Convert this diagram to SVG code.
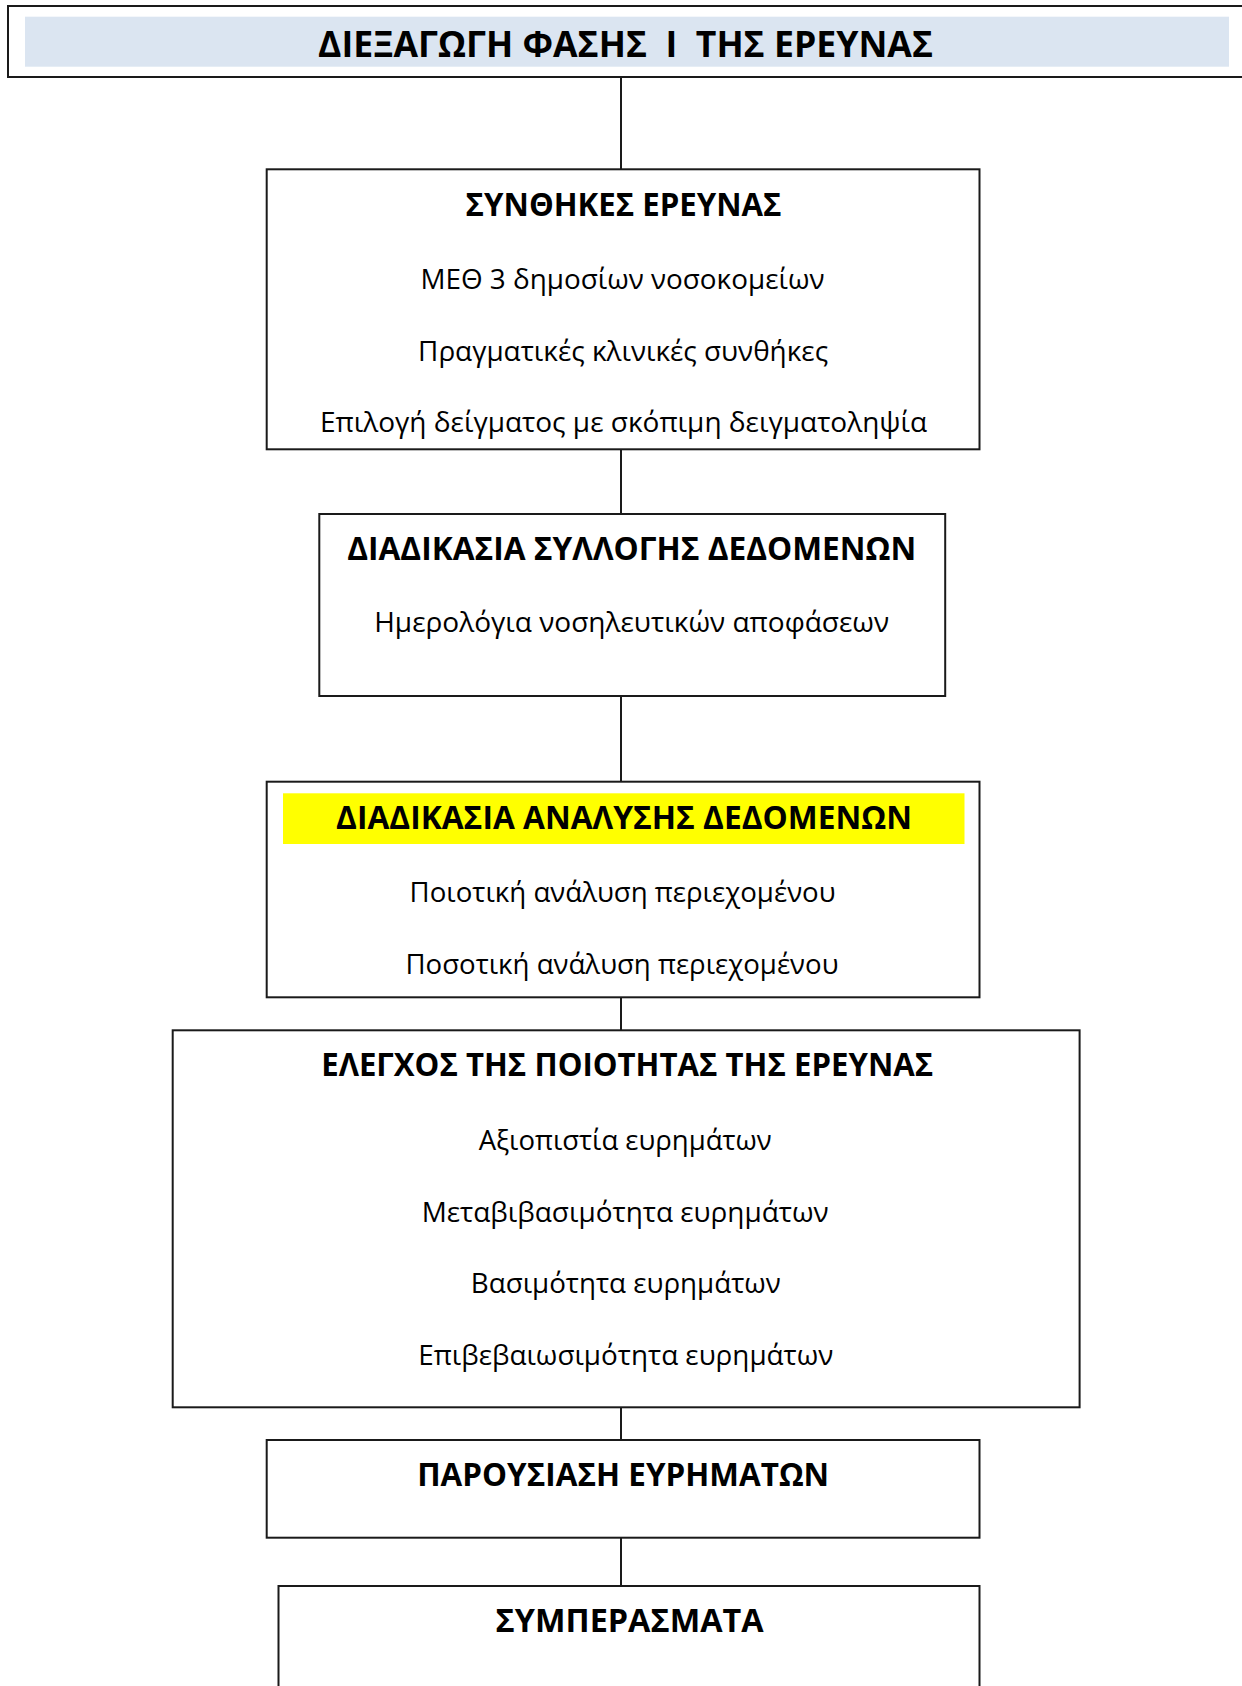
<svg xmlns="http://www.w3.org/2000/svg" width="1242" height="1686" viewBox="0 0 1242 1686">
  <style>
    .box { fill: #ffffff; stroke: #1a1a1a; stroke-width: 2; }
    .conn { stroke: #1a1a1a; stroke-width: 2; fill: none; }
    .head { font-family: "Open Sans", "Noto Sans", "Liberation Sans", sans-serif; font-weight: 700; font-size: 36px; fill: #000; text-anchor: middle; }
    .title { font-family: "Open Sans", "Noto Sans", "Liberation Sans", sans-serif; font-weight: 700; font-size: 32px; fill: #000; text-anchor: middle; }
    .body { font-family: "Open Sans", "Noto Sans", "Liberation Sans", sans-serif; font-weight: 400; font-size: 26.5px; fill: #000; text-anchor: middle; }
  </style>

  <rect width="1242" height="1686" fill="#ffffff"/>

  <!-- vertical connectors down the centre line -->
  <g id="connectors">
    <line class="conn" x1="621" y1="77" x2="621" y2="169.3"/>
    <line class="conn" x1="621" y1="449.3" x2="621" y2="514"/>
    <line class="conn" x1="621" y1="696" x2="621" y2="781.7"/>
    <line class="conn" x1="621" y1="997.3" x2="621" y2="1030.3"/>
    <line class="conn" x1="621" y1="1407.3" x2="621" y2="1440"/>
    <line class="conn" x1="621" y1="1537.7" x2="621" y2="1586"/>
  </g>

  <!-- header banner -->
  <g id="header">
    <rect class="box" x="8" y="6" width="1250" height="71"/>
    <rect x="25" y="16.7" width="1204" height="50" fill="#dbe5f1"/>
    <text class="head" x="625.5" y="57.3" textLength="615" lengthAdjust="spacingAndGlyphs" xml:space="preserve">ΔΙΕΞΑΓΩΓΗ ΦΑΣΗΣ  Ι  ΤΗΣ ΕΡΕΥΝΑΣ</text>
  </g>

  <g id="conditions">
    <rect class="box" x="266.7" y="169.3" width="712.8" height="280"/>
    <text class="title" x="623.6" y="215.5" textLength="316" lengthAdjust="spacingAndGlyphs">ΣΥΝΘΗΚΕΣ ΕΡΕΥΝΑΣ</text>
    <text class="body" x="622.5" y="289.3" textLength="404" lengthAdjust="spacingAndGlyphs">ΜΕΘ 3 δημοσίων νοσοκομείων</text>
    <text class="body" x="623.1" y="360.8" textLength="410" lengthAdjust="spacingAndGlyphs">Πραγματικές κλινικές συνθήκες</text>
    <text class="body" x="623.5" y="432.3" textLength="607" lengthAdjust="spacingAndGlyphs">Επιλογή δείγματος με σκόπιμη δειγματοληψία</text>
  </g>

  <g id="collection">
    <rect class="box" x="319.3" y="514" width="625.9" height="182"/>
    <text class="title" x="631.7" y="560" textLength="569" lengthAdjust="spacingAndGlyphs">ΔΙΑΔΙΚΑΣΙΑ ΣΥΛΛΟΓΗΣ ΔΕΔΟΜΕΝΩΝ</text>
    <text class="body" x="631.7" y="632" textLength="515" lengthAdjust="spacingAndGlyphs">Ημερολόγια νοσηλευτικών αποφάσεων</text>
  </g>

  <g id="analysis">
    <rect class="box" x="266.7" y="781.7" width="712.8" height="215.6"/>
    <rect x="283" y="793.3" width="681.5" height="50.7" fill="#ffff00"/>
    <text class="title" x="624" y="829" textLength="576" lengthAdjust="spacingAndGlyphs">ΔΙΑΔΙΚΑΣΙΑ ΑΝΑΛΥΣΗΣ ΔΕΔΟΜΕΝΩΝ</text>
    <text class="body" x="622.6" y="902" textLength="426" lengthAdjust="spacingAndGlyphs">Ποιοτική ανάλυση περιεχομένου</text>
    <text class="body" x="622" y="973.5" textLength="433" lengthAdjust="spacingAndGlyphs">Ποσοτική ανάλυση περιεχομένου</text>
  </g>

  <g id="quality">
    <rect class="box" x="172.7" y="1030.3" width="906.9" height="377"/>
    <text class="title" x="627.2" y="1076" textLength="612" lengthAdjust="spacingAndGlyphs">ΕΛΕΓΧΟΣ ΤΗΣ ΠΟΙΟΤΗΤΑΣ ΤΗΣ ΕΡΕΥΝΑΣ</text>
    <text class="body" x="625.2" y="1150" textLength="293" lengthAdjust="spacingAndGlyphs">Αξιοπιστία ευρημάτων</text>
    <text class="body" x="625.2" y="1221.5" textLength="407" lengthAdjust="spacingAndGlyphs">Μεταβιβασιμότητα ευρημάτων</text>
    <text class="body" x="625.8" y="1293" textLength="310" lengthAdjust="spacingAndGlyphs">Βασιμότητα ευρημάτων</text>
    <text class="body" x="625.8" y="1364.5" textLength="415" lengthAdjust="spacingAndGlyphs">Επιβεβαιωσιμότητα ευρημάτων</text>
  </g>

  <g id="findings">
    <rect class="box" x="266.7" y="1440" width="712.8" height="97.7"/>
    <text class="title" x="623.2" y="1486" textLength="412" lengthAdjust="spacingAndGlyphs">ΠΑΡΟΥΣΙΑΣΗ ΕΥΡΗΜΑΤΩΝ</text>
  </g>

  <g id="conclusions">
    <rect class="box" x="278.5" y="1586" width="701" height="140"/>
    <text class="title" x="629.6" y="1632" textLength="268" lengthAdjust="spacingAndGlyphs">ΣΥΜΠΕΡΑΣΜΑΤΑ</text>
  </g>
</svg>
